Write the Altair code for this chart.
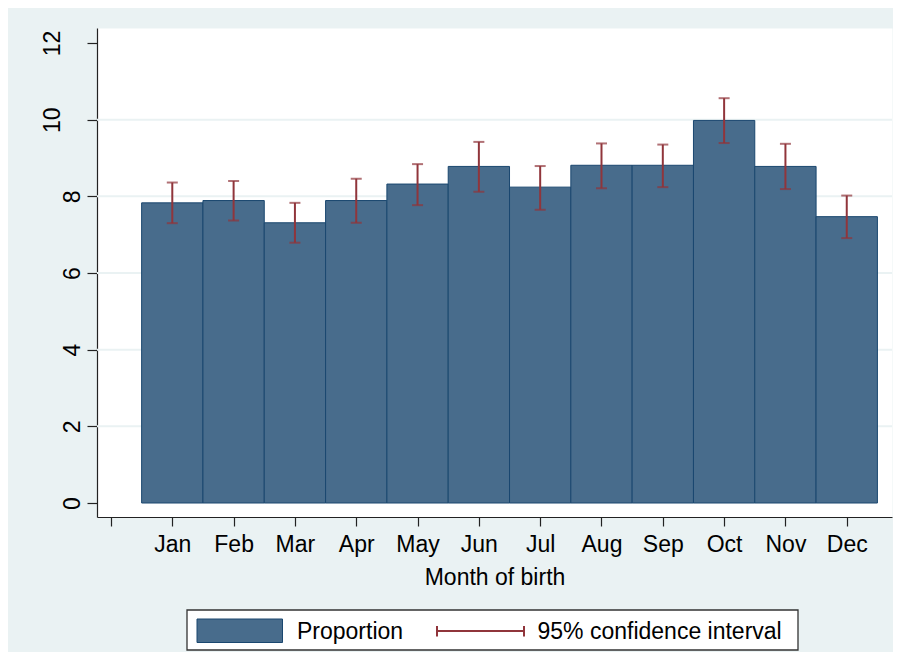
import json
import altair as alt
import pandas as pd

# ---- data ----
months = ["Jan", "Feb", "Mar", "Apr", "May", "Jun", "Jul", "Aug", "Sep", "Oct", "Nov", "Dec"]
month_index = list(range(1, 13))
proportion = [7.83, 7.89, 7.31, 7.89, 8.32, 8.78, 8.24, 8.81, 8.81, 9.98, 8.78, 7.47]
ci_low = [7.30, 7.37, 6.79, 7.31, 7.77, 8.12, 7.65, 8.21, 8.24, 9.39, 8.19, 6.91]
ci_high = [8.36, 8.40, 7.83, 8.46, 8.84, 9.42, 8.79, 9.38, 9.35, 10.56, 9.37, 8.02]
x_ticks = list(range(0, 13))
x_tick_labels = [""] + months
y_ticks = [0, 2, 4, 6, 8, 10, 12]
grid_values = [2, 4, 6, 8, 10]
legend_labels = ["Proportion", "95% confidence interval"]
x_title = "Month of birth"

# ---- styling ----
FONT = "Liberation Sans"
BG = "#EAF2F3"
BAR_FILL = "#486C8C"
BAR_STROKE = "#1A476F"
CI_COLOR = "#90353B"
AXIS_COLOR = "#222222"
W, H = 795, 489

df = pd.DataFrame({
    "month": months,
    "m": month_index,
    "proportion": proportion,
    "lo": ci_low,
    "hi": ci_high,
})

xscale = alt.Scale(domain=[-0.228, 12.738], nice=False, zero=False)
yscale = alt.Scale(domain=[-0.365, 12.391], nice=False, zero=False)

label_expr = json.dumps(x_tick_labels) + "[datum.value]"

xaxis = alt.Axis(
    values=x_ticks, labelExpr=label_expr, tickSize=9, labelPadding=7,
    labelFontSize=23, labelFont=FONT, labelColor="black", labelOverlap=False,
    labelFlush=False, grid=False, title=x_title, titleFont=FONT,
    titleFontSize=23, titleFontWeight="normal", titleColor="black",
    titlePadding=10, domainColor=AXIS_COLOR, tickColor=AXIS_COLOR,
    domainWidth=1.2, tickWidth=1.2,
)
yaxis = alt.Axis(
    values=y_ticks, labelAngle=270, labelAlign="center", labelBaseline="alphabetic",
    tickSize=10,
    labelPadding={"condition": {"test": "datum.value >= 10", "value": 28}, "value": 8},
    labelFontSize=23, labelFont=FONT, labelColor="black", labelOverlap=False,
    labelFlush=False, grid=False, title="", domainColor=AXIS_COLOR,
    tickColor=AXIS_COLOR, domainWidth=1.2, tickWidth=1.2,
)

base = alt.Chart(df)

grid = alt.Chart(pd.DataFrame({"g": grid_values})).mark_rule(
    color=BG, strokeWidth=2
).encode(
    y=alt.Y("g:Q", scale=yscale, axis=yaxis),
    x=alt.value(0),
    x2=alt.value(W),
)

bars = base.transform_calculate(
    x0="datum.m - 0.5", x1="datum.m + 0.5"
).mark_rect(fill=BAR_FILL, stroke=BAR_STROKE, strokeWidth=1).encode(
    x=alt.X("x0:Q", scale=xscale, axis=xaxis),
    x2="x1:Q",
    y=alt.Y("proportion:Q", scale=yscale, axis=yaxis),
    y2=alt.datum(0),
)

ci = base.mark_rule(color=CI_COLOR, strokeWidth=2).encode(
    x=alt.X("m:Q", scale=xscale, axis=xaxis),
    y=alt.Y("lo:Q", scale=yscale, axis=yaxis),
    y2="hi:Q",
)
cap_lo = base.mark_tick(color=CI_COLOR, orient="horizontal", size=11, thickness=2).encode(
    x=alt.X("m:Q", scale=xscale, axis=xaxis),
    y=alt.Y("lo:Q", scale=yscale, axis=yaxis),
)
cap_hi = base.mark_tick(color=CI_COLOR, orient="horizontal", size=11, thickness=2).encode(
    x=alt.X("m:Q", scale=xscale, axis=xaxis),
    y=alt.Y("hi:Q", scale=yscale, axis=yaxis),
)

# ---- legend (drawn below the plot area) ----
leg = alt.Chart(pd.DataFrame({"label": legend_labels}))
box = leg.transform_filter(alt.datum.label == legend_labels[0]).mark_rect(
    fill="white", stroke="#333333", strokeWidth=1.3
).encode(x=alt.value(90), x2=alt.value(701), y=alt.value(582), y2=alt.value(622))
swatch = leg.transform_filter(alt.datum.label == legend_labels[0]).mark_rect(
    fill=BAR_FILL, stroke=BAR_STROKE, strokeWidth=1
).encode(x=alt.value(100), x2=alt.value(185.5), y=alt.value(591), y2=alt.value(614.5))
txt1 = leg.transform_filter(alt.datum.label == legend_labels[0]).mark_text(
    align="left", baseline="alphabetic", font=FONT, fontSize=23, color="black"
).encode(x=alt.value(200), y=alt.value(611), text="label:N")
ci_line = leg.transform_filter(alt.datum.label == legend_labels[1]).mark_rule(
    color=CI_COLOR, strokeWidth=2
).encode(x=alt.value(340), x2=alt.value(427), y=alt.value(603))
ci_cap1 = leg.transform_filter(alt.datum.label == legend_labels[1]).mark_rule(
    color=CI_COLOR, strokeWidth=2
).encode(x=alt.value(340), y=alt.value(598), y2=alt.value(608.5))
ci_cap2 = leg.transform_filter(alt.datum.label == legend_labels[1]).mark_rule(
    color=CI_COLOR, strokeWidth=2
).encode(x=alt.value(427), y=alt.value(598), y2=alt.value(608.5))
txt2 = leg.transform_filter(alt.datum.label == legend_labels[1]).mark_text(
    align="left", baseline="alphabetic", font=FONT, fontSize=23, color="black"
).encode(x=alt.value(440.5), y=alt.value(611), text="label:N")

chart = alt.layer(
    grid, bars, ci, cap_lo, cap_hi,
    box, swatch, txt1, ci_line, ci_cap1, ci_cap2, txt2,
).properties(
    width=W, height=H,
    autosize=alt.AutoSizeParams(type="none"),
    padding={"left": 89, "top": 20, "right": 1, "bottom": 135},
    background=BG,
).configure_view(fill="white", stroke="transparent")

chart.save("out.html", embed_options={"renderer": "svg", "actions": False})
